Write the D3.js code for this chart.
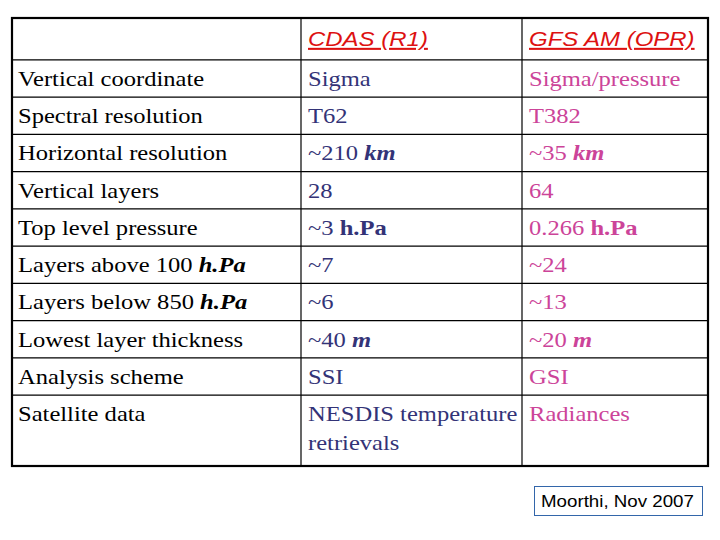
<!DOCTYPE html>
<html><head><meta charset="utf-8">
<script src="https://cdn.jsdelivr.net/npm/d3@7"></script>
<style>body{margin:0;background:#fff}</style>
</head><body><svg id="canvas" width="720" height="540"></svg>
<script>
// column headers
let headers = ["", "CDAS (R1)", "GFS AM (OPR)"]
// row labels: segments [text, emphasis]
let labels = [
  [["Vertical coordinate"]],
  [["Spectral resolution"]],
  [["Horizontal resolution"]],
  [["Vertical layers"]],
  [["Top level pressure"]],
  [["Layers above 100 "], ["h.Pa", "bi"]],
  [["Layers below 850 "], ["h.Pa", "bi"]],
  [["Lowest layer thickness"]],
  [["Analysis scheme"]],
  [["Satellite data"]]
]
let cdas = [
  [["Sigma"]],
  [["T62"]],
  [["~210 "], ["km", "bi"]],
  [["28"]],
  [["~3 "], ["h.Pa", "b"]],
  [["~7"]],
  [["~6"]],
  [["~40 "], ["m", "bi"]],
  [["SSI"]],
  [["NESDIS temperature"]],
]
let gfs = [
  [["Sigma/pressure"]],
  [["T382"]],
  [["~35 "], ["km", "bi"]],
  [["64"]],
  [["0.266 "], ["h.Pa", "b"]],
  [["~24"]],
  [["~13"]],
  [["~20 "], ["m", "bi"]],
  [["GSI"]],
  [["Radiances"]]
]
let extraLine = [null, [["retrievals"]], null]   // second line of last row
let rowUnits = [1.15, 1, 1, 1, 1, 1, 1, 1, 1, 1, 1.93]
let credit = "Moorthi, Nov 2007"

let svg = d3.select("#canvas")
let colColors = ["#000", "#333377", "#cc4499"]
let sx = 1.17  // the original slide is stretched horizontally

let cum = [0]
rowUnits.forEach(u => cum.push(cum[cum.length - 1] + u))
let y = d3.scaleLinear().domain([0, cum[cum.length - 1]]).range([17, 467])
let x = d3.scaleOrdinal().domain([0, 1, 2, 3]).range([11, 301, 522, 709])

// grid lines
svg.selectAll(".hl").data(cum.slice(1, -1)).enter().append("line")
  .attr("x1", 11).attr("x2", 709).attr("y1", d => y(d)).attr("y2", d => y(d))
  .attr("stroke", "#000").attr("stroke-width", 1.2)
svg.selectAll(".vl").data([1, 2]).enter().append("line")
  .attr("x1", d => x(d)).attr("x2", d => x(d)).attr("y1", 17).attr("y2", 467)
  .attr("stroke", "#000").attr("stroke-width", 1.2)
svg.append("rect").attr("x", 12).attr("y", 18).attr("width", 696).attr("height", 448)
  .attr("fill", "none").attr("stroke", "#000").attr("stroke-width", 2.2)

let stretched = (px, py) => svg.append("g")
  .attr("transform", `translate(${px},${py}) scale(${sx},1)`)

// headers
headers.forEach((h, i) => {
  stretched(x(i) + 7, y(0) + 29).append("text")
    .attr("font-family", "Liberation Sans, Arial").attr("font-style", "italic")
    .attr("font-size", 20.5).attr("fill", "#dd1111")
    .attr("text-decoration", "underline").text(h)
})

let drawCell = (segs, col, yy) => {
  let t = stretched(x(col) + 7, yy).append("text")
    .attr("font-family", "Liberation Serif, Times New Roman").attr("font-size", 21)
    .attr("fill", colColors[col])
  segs.forEach(s => {
    t.append("tspan").text(s[0])
      .attr("font-weight", s[1] && s[1].includes("b") ? "bold" : null)
      .attr("font-style", s[1] && s[1].includes("i") ? "italic" : null)
  })
}

labels.forEach((l, r) => {
  let yy = y(cum[r + 1]) + 26
  drawCell(l, 0, yy)
  drawCell(cdas[r], 1, yy)
  drawCell(gfs[r], 2, yy)
})
extraLine.forEach((e, c) => {
  if (e) drawCell(e, c, y(cum[10]) + 55)
})

// credit box
svg.append("rect").attr("x", 534.5).attr("y", 486.5).attr("width", 168).attr("height", 29)
  .attr("fill", "#fff").attr("stroke", "#3366aa").attr("stroke-width", 1)
stretched(541, 507).append("text")
  .attr("font-family", "Liberation Sans, Arial").attr("font-size", 16).text(credit)
</script></body></html>
